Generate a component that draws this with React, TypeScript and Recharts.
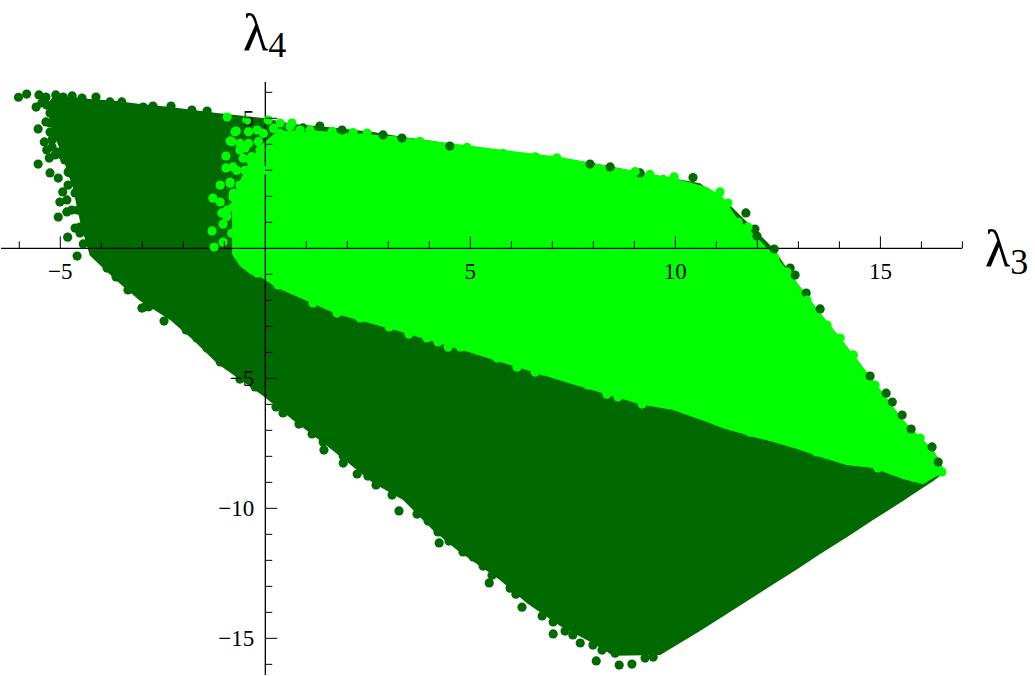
import React from "react";
import {
  Area,
  ComposedChart,
  ReferenceLine,
  Scatter,
  XAxis,
  YAxis,
} from "recharts";

const DARK = "#006a00";
const LIGHT = "#00ff00";
const SERIF = "'Liberation Serif', serif";
const ZERO_X = 265.3;
const ZERO_Y = 248.3;

const xTicks = [-6, -5, -4, -3, -2, -1, 1, 2, 3, 4, 5, 6, 7, 8, 9, 10, 11, 12, 13, 14, 15, 16, 17];
const yTicks = [6, 5, 4, 3, 2, 1, -1, -2, -3, -4, -5, -6, -7, -8, -9, -10, -11, -12, -13, -14, -15, -16];

// outline of the whole sampled region (dark)
const darkX = [-5.3, -5.2, -5.0, -4.8, -4.7, -4.5, -4.28, -3.62, -3.05, -2.32, -1.76, -1.18, -0.06, 0.68, 1.5, 2.63, 3.36, 4.09, 4.68, 5.72, 6.38, 7.19, 7.99, 8.48, 9.63, 10.6, 11.33, 12.38, 12.97, 13.53, 14.19, 14.82, 15.55, 15.85, 16.29, 16.58];
const darkLow = [5.3, 4.5, 3.78, 2.82, 2.36, 0.9, -0.28, -1.26, -2.03, -2.76, -3.53, -4.42, -5.67, -6.61, -7.59, -9.03, -9.68, -10.84, -11.61, -12.76, -13.65, -14.53, -15.19, -15.67, -15.64, -14.72, -13.99, -12.93, -12.34, -11.76, -11.1, -10.45, -9.72, -9.4, -8.95, -8.6];
const darkHigh = [5.59, 5.78, 5.86, 5.82, 5.82, 5.78, 5.74, 5.67, 5.55, 5.43, 5.32, 5.2, 5.01, 4.78, 4.67, 4.47, 4.28, 4.13, 3.97, 3.74, 3.63, 3.47, 3.28, 3.13, 2.78, 2.5, 1.67, 0.01, -1.33, -2.49, -3.8, -5.07, -6.6, -7.1, -7.76, -8.6];

// outline of the subset (light)
const lightX = [-0.81, -0.62, -0.37, -0.08, 0.29, 1.09, 1.75, 3.11, 4.97, 7.19, 9.13, 9.94, 10.77, 11.16, 11.5, 11.89, 12.23, 12.38, 12.97, 13.53, 14.19, 14.82, 15.55, 16.04, 16.29, 16.58];
const lightLow = [-0.22, -0.68, -0.99, -1.14, -1.53, -2.07, -2.54, -3.12, -4.0, -5.08, -6.0, -6.22, -6.68, -6.92, -7.07, -7.26, -7.38, -7.45, -7.72, -8.03, -8.34, -8.45, -8.87, -9.07, -8.83, -8.6];
const lightHigh = [1.86, 2.6, 3.4, 4.0, 4.5, 4.55, 4.45, 4.32, 3.95, 3.51, 2.93, 2.7, 2.36, 1.97, 1.17, 0.59, 0.01, -0.14, -1.33, -2.49, -3.8, -5.07, -6.6, -7.37, -7.76, -8.6];

const darkDots: [number, number][] = [
  [-6.02, 5.81], [-5.82, 5.93], [-5.52, 5.9], [-5.35, 5.82], [-5.11, 5.9], [-5.59, 5.43], [-5.35, 4.86], [-5.54, 4.59],
  [-5.39, 4.09], [-5.33, 3.78], [-5.54, 3.24], [-5.25, 2.9], [-5.05, 2.7], [-5.27, 3.47], [-4.94, 2.17], [-5.01, 1.78],
  [-4.84, 1.4], [-5.05, 1.2], [-4.64, 0.78], [-4.82, 0.43], [-4.59, -0.3], [-4.52, 0.59], [-4.44, 0.17], [-5.18, 4.24], [-4.96, 3.59],
  [-5.25, 4.47], [-5.2, 4.17], [-5.13, 3.59], [-5.05, 3.7], [-4.89, 3.4], [-4.81, 2.93], [-4.81, 2.43], [-4.84, 1.86],
  [-4.72, 1.47], [-4.57, 1.47], [-4.52, 0.82], [-5.25, 5.2], [-5.45, 5.59], [-5.33, 5.51], [-5.13, 5.51], [-5.25, 4.82],
  [-5.13, 4.47], [-5.2, 3.9], [-4.76, 3.67], [-4.89, 4.09], [-4.76, 2.9], [-4.64, 2.13],
  [-4.93, 5.82], [-4.71, 5.86], [-4.47, 5.78], [-4.13, 5.82], [-3.79, 5.63], [-3.5, 5.63], [-2.98, 5.43], [-2.74, 5.47],
  [-2.3, 5.47], [-1.79, 5.32], [-1.42, 5.28], [-3.86, -0.76], [-3.64, -1.1], [-2.93, -2.25], [-2.57, -2.1],
  [-3.35, -1.6], [-3.01, -2.3], [-2.84, -2.25], [-2.59, -2.18], [-2.47, -2.8], [-2.2, -2.64], [-1.93, -3.14], [-1.67, -3.45],
  [-1.42, -3.83], [-1.1, -4.37], [-0.76, -4.64], [-0.62, -5.03], [-0.25, -5.33], [0.26, -6.1], [0.43, -6.33], [0.82, -6.76],
  [1.14, -7.14], [1.41, -7.45], [1.43, -7.76], [1.9, -7.99], [1.9, -8.26], [2.24, -8.68], [2.5, -8.76], [2.7, -9.1],
  [3.09, -9.49], [3.26, -10.1], [3.7, -10.22], [3.97, -10.49], [4.21, -10.91], [4.24, -11.33], [4.48, -11.26], [4.82, -11.68],
  [5.07, -11.87], [5.31, -12.22], [5.53, -12.57], [5.46, -12.87], [5.97, -13.07], [6.11, -13.3], [6.26, -13.8], [6.75, -14.14],
  [7.02, -14.37], [7.02, -14.83], [7.31, -14.72], [7.5, -14.87], [7.68, -15.18], [7.99, -15.26], [8.07, -15.87], [8.21, -15.45],
  [8.53, -15.57], [8.63, -16.03], [8.94, -15.99], [9.26, -15.76], [9.46, -15.72],
  [10.43, 2.72], [11.72, 1.36], [11.94, 0.74], [11.99, 0.47], [12.41, -0.03], [12.8, -0.76], [12.92, -1.03], [13.19, -1.72],
  [13.53, -2.33], [14.75, -4.91], [15.14, -5.57], [15.29, -5.91], [15.53, -6.41], [15.75, -6.95], [16.26, -7.64], [16.41, -8.22],
  [0.92, 4.63], [1.33, 4.7], [1.87, 4.55], [2.87, 4.36], [3.33, 4.24], [4.5, 3.93], [7.92, 3.24], [8.41, 3.13], [9.14, 2.9],
];

const lightDots: [number, number][] = [
  [-0.93, 5.05], [-0.45, 4.93], [-0.71, 4.51], [-0.86, 4.13], [-0.49, 3.86], [-0.96, 3.55], [-0.96, 3.09], [-0.79, 3.13],
  [-1.1, 2.43], [-0.86, 2.55], [-1.28, 1.93], [-1.06, 1.36], [-1.1, 1.78], [-1.3, 0.67], [-1.25, 0.05], [-1.03, 0.93],
  [-1.03, 0.24], [-0.67, -0.26], [-0.2, -0.95], [0.36, 4.82], [0.65, 4.82], [0.07, 4.93], [-0.2, 4.55], [0.29, 4.17],
  [-0.62, 3.78], [-0.37, 3.4], [-0.79, 1.97], [-0.93, 1.47], [-0.69, 1.2], [1.09, 4.55], [1.63, 4.5],
  [-0.74, 4.48], [-0.62, 4.04], [-0.82, 4.1], [-0.41, 4.48], [-0.41, 4.04], [-0.17, 4.1], [-0.05, 4.42], [-0.54, 3.46],
  [-0.7, 3.0], [-0.5, 3.0], [-0.33, 3.53], [-0.13, 3.78], [-0.05, 3.0], [-0.62, 2.43], [-0.86, 2.5], [-0.41, 2.43],
  [-0.78, 2.12], [-0.54, 1.86], [-0.78, 1.6], [-0.94, 1.22], [-0.62, 0.83], [-0.82, 0.58], [0.36, 4.42], [0.6, 4.68],
  [0.2, 4.61], [0.16, 3.78], [0.44, 3.78], [0.68, 4.3], [0.85, 4.55],
  [9.92, -5.99], [10.16, -6.1], [10.36, -6.22], [10.65, -6.41], [11.26, -6.76], [11.82, -7.07], [12.23, -7.18], [12.63, -7.33],
  [13.11, -7.53], [13.45, -7.83], [13.85, -7.95], [14.34, -8.07], [14.94, -8.45], [15.31, -8.53], [15.8, -8.8], [16.5, -8.6],
  [-0.54, -0.53], [0.31, -1.41], [1.16, -2.1], [1.75, -2.49], [2.31, -2.68],
  [3.02, -3.03], [3.5, -3.3], [3.94, -3.45], [4.21, -3.6], [4.46, -3.8], [4.76, -3.8], [5.19, -3.92], [5.65, -4.22],
  [6.14, -4.57], [6.58, -4.76], [6.77, -4.72], [7.19, -4.87], [7.6, -5.07], [7.87, -5.26], [8.33, -5.61], [8.6, -5.72], [9.19, -5.99],
  [11.09, 2.17], [11.28, 1.74], [11.53, 1.01], [11.77, 0.82], [12.43, -0.37], [12.72, -0.91],
  [14.02, -3.45], [14.34, -4.1], [14.87, -5.26], [15.97, -7.3], [13.21, -1.99], [13.7, -2.95],
  [2.14, 4.45], [2.48, 4.43], [3.77, 4.11], [4.92, 3.88], [5.8, 3.65], [6.58, 3.52], [7.11, 3.48], [9.02, 2.95],
  [9.38, 2.84], [9.97, 2.75], [9.7, 2.65],
];

const toRows = (xs: number[], low: number[], high: number[]) =>
  xs.map((x, i) => ({ x, range: [low[i], high[i]] }));
const toPoints = (pts: [number, number][]) => pts.map(([x, y]) => ({ x, y }));

const Dot = (color: string) => (props: any) => (
  <circle cx={props.cx} cy={props.cy} r={4.6} fill={color} />
);

const XTick = ({ x, payload }: any) => {
  const major = payload.value % 5 === 0;
  return (
    <g>
      <line x1={x} x2={x} y1={ZERO_Y} y2={ZERO_Y - (major ? 12 : 7)} stroke="#000" strokeWidth={1} />
      {major && (
        <text x={x} y={ZERO_Y + 31} textAnchor="middle" fontFamily={SERIF} fontSize={23} fill="#000">
          {String(payload.value).replace("-", "\u2212")}
        </text>
      )}
    </g>
  );
};

const YTick = ({ y, payload }: any) => {
  const major = payload.value % 5 === 0;
  return (
    <g>
      <line x1={ZERO_X} x2={ZERO_X + (major ? 12 : 7)} y1={y} y2={y} stroke="#000" strokeWidth={1} />
      {major && (
        <text x={ZERO_X - 11} y={y + 8} textAnchor="end" fontFamily={SERIF} fontSize={23} fill="#000">
          {String(payload.value).replace("-", "\u2212")}
        </text>
      )}
    </g>
  );
};

export default function App() {
  return (
    <div style={{ position: "absolute", left: 0, top: 0, width: 1035, height: 676 }}>
      <ComposedChart width={1035} height={676} margin={{ top: 82, right: 73, bottom: 0, left: 0 }}>
        <Area
          data={toRows(darkX, darkLow, darkHigh)}
          dataKey="range"
          type="linear"
          fill={DARK}
          fillOpacity={1}
          stroke="none"
          dot={false}
          activeDot={false}
          isAnimationActive={false}
        />
        <Scatter data={toPoints(darkDots)} shape={Dot(DARK)} isAnimationActive={false} />
        <Area
          data={toRows(lightX, lightLow, lightHigh)}
          dataKey="range"
          type="linear"
          fill={LIGHT}
          fillOpacity={1}
          stroke="none"
          dot={false}
          activeDot={false}
          isAnimationActive={false}
        />
        <Scatter data={toPoints(lightDots)} shape={Dot(LIGHT)} isAnimationActive={false} />
        <XAxis
          dataKey="x"
          type="number"
          domain={[-6.446, 16.99]}
          ticks={xTicks}
          interval={0}
          height={1}
          axisLine={false}
          tickLine={false}
          tick={XTick}
        />
        <YAxis
          dataKey="y"
          type="number"
          domain={[-16.41, 6.396]}
          ticks={yTicks}
          interval={0}
          width={1}
          axisLine={false}
          tickLine={false}
          tick={YTick}
        />
        <ReferenceLine y={0} stroke="#000" strokeWidth={1.3} />
        <ReferenceLine x={0} stroke="#000" strokeWidth={1.3} />
        <text x={243} y={50} fontFamily={SERIF} fontSize={52} fill="#000">
          λ<tspan fontSize={36} dy={7}>4</tspan>
        </text>
        <text x={985} y={266} fontFamily={SERIF} fontSize={52} fill="#000">
          λ<tspan fontSize={36} dy={8}>3</tspan>
        </text>
      </ComposedChart>
    </div>
  );
}
